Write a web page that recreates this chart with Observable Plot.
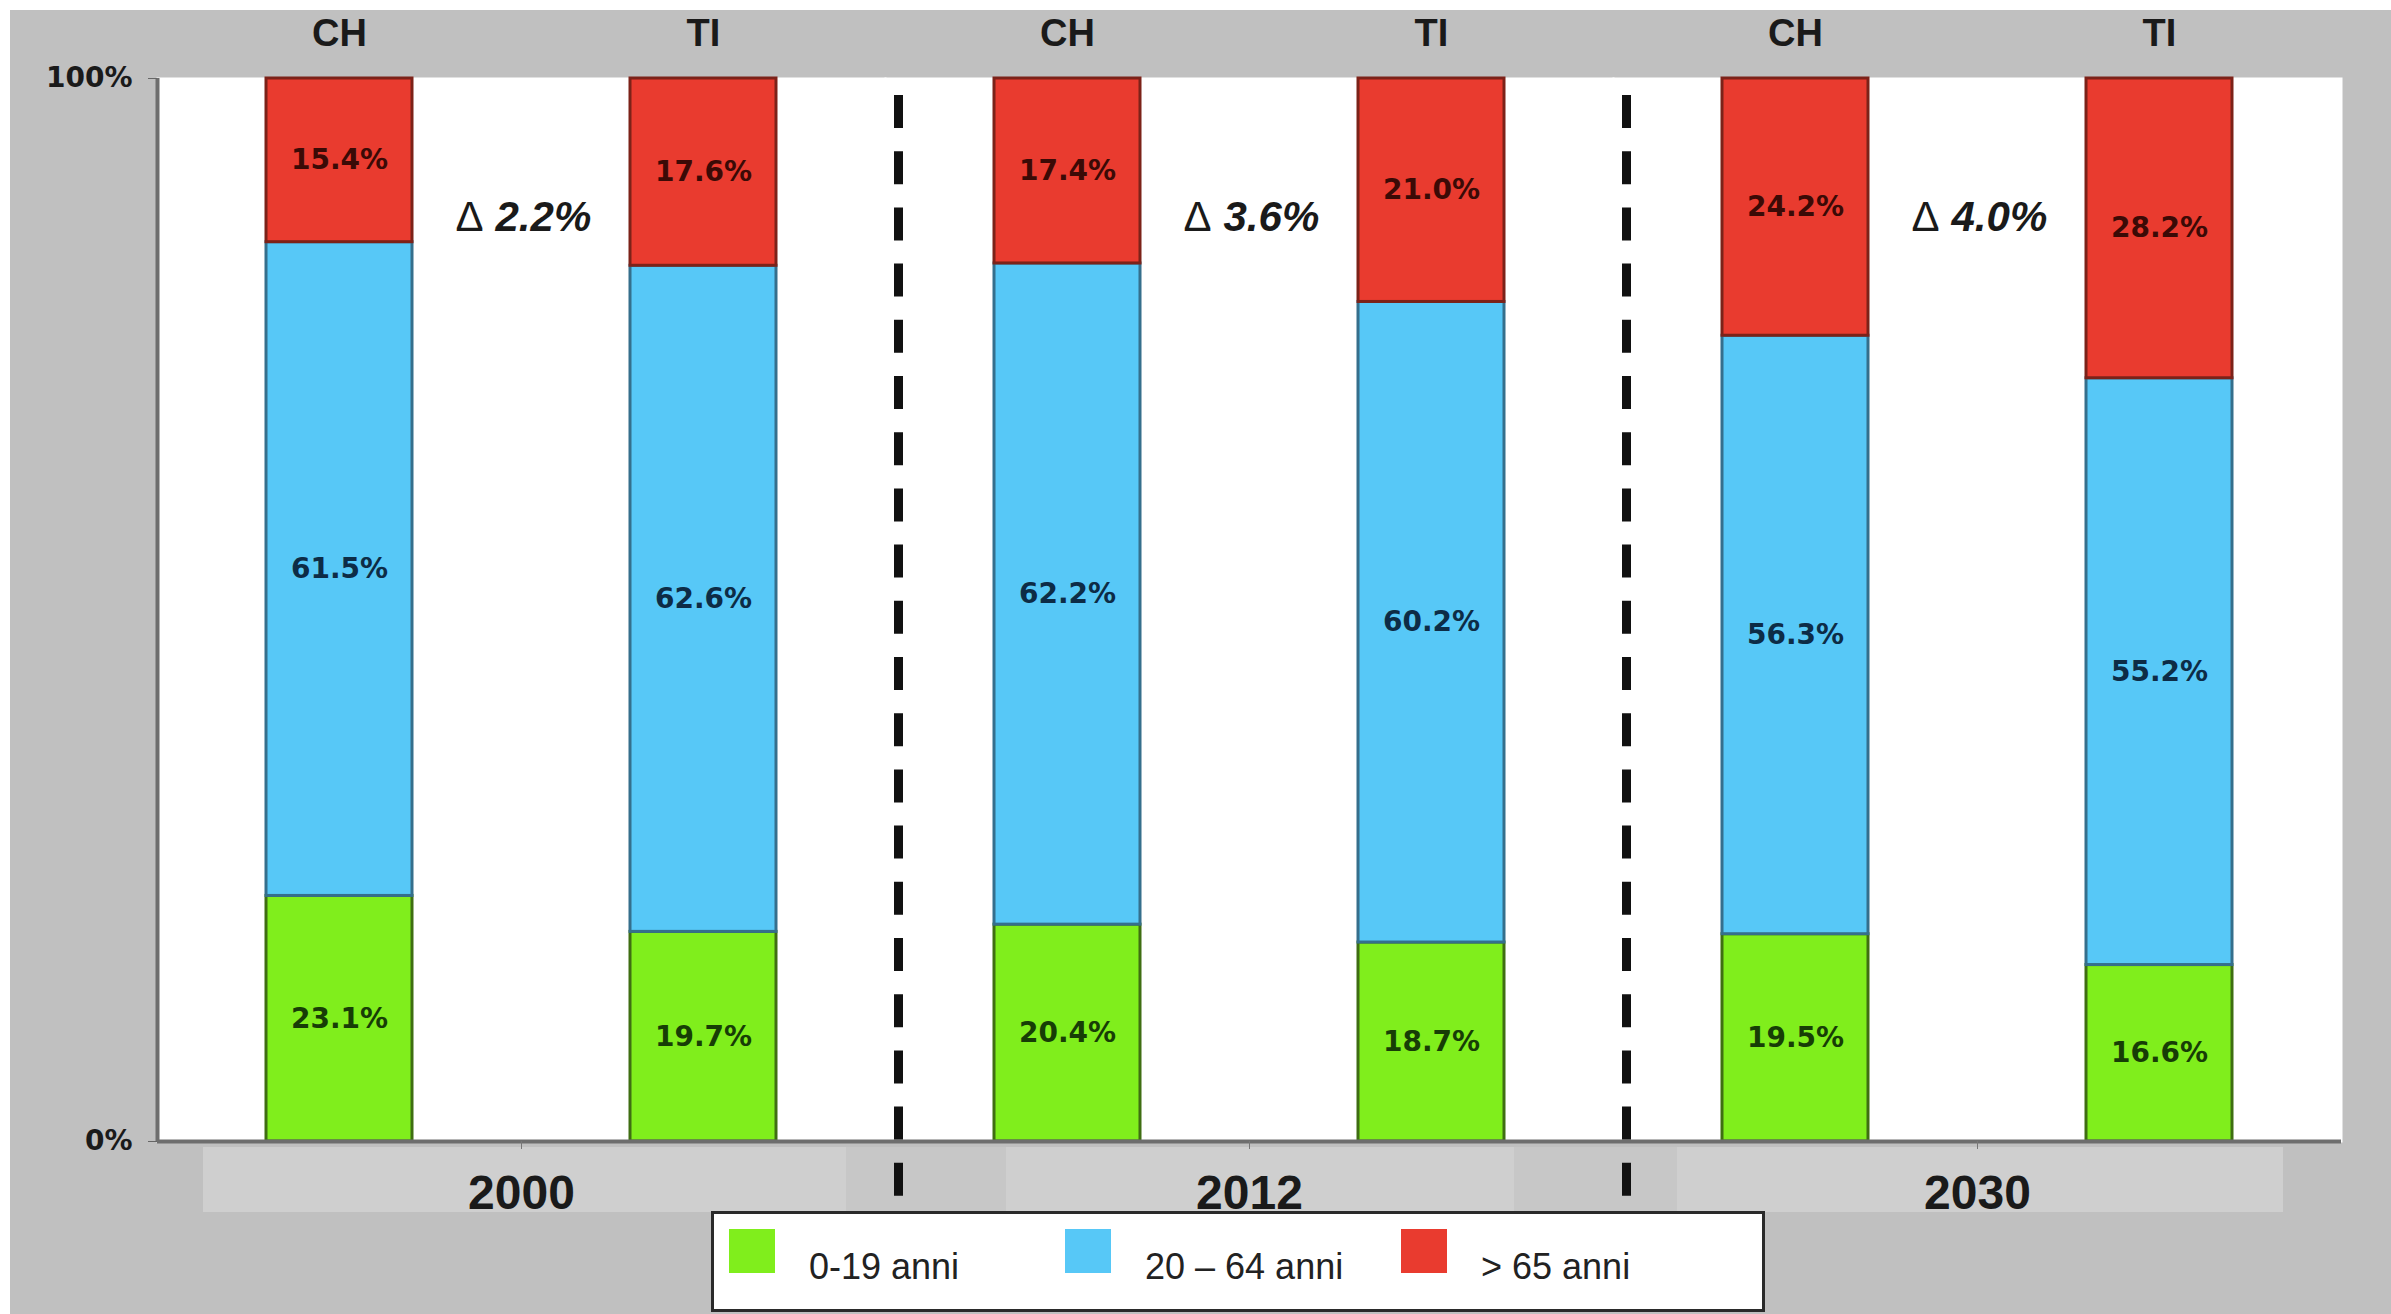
<!DOCTYPE html>
<html>
<head>
<meta charset="utf-8">
<script src="https://cdn.jsdelivr.net/npm/d3@7"></script>
<script src="https://cdn.jsdelivr.net/npm/@observablehq/plot@0.6"></script>
<style>
  html, body { margin: 0; padding: 0; background: #ffffff; }
  #wrap { position: absolute; left: 10px; top: 10px; width: 2381px; height: 1304px; background: #c0c0c0; overflow: hidden; font-family: 'Liberation Sans', Arial, sans-serif; }
  #band { position: absolute; left: 193px; top: 1137px; width: 2080px; height: 65px;
    background: linear-gradient(to right, #cfcfcf 0px, #cfcfcf 643px, #c7c7c7 643px, #c7c7c7 803px, #cfcfcf 803px, #cfcfcf 1311px, #c7c7c7 1311px, #c7c7c7 1474px, #cfcfcf 1474px); }
  #chart { position: absolute; left: 0; top: 0; }
  #legend { position: absolute; left: 701px; top: 1201px; width: 1054px; height: 101px; box-sizing: border-box; background: #fff; border: 3px solid #2a2a2a; display: flex; padding-left: 15px; }
  .item { width: 336px; display: flex; align-items: flex-start; }
  .sw { width: 46px; height: 44px; margin-top: 15px; flex: none; }
  .lab { margin-left: 34px; margin-top: 35px; font-size: 36px; line-height: 36px; color: #222; white-space: nowrap; }
</style>
</head>
<body>
<div id="wrap">
  <div id="band"></div>
  <div id="chart"></div>
  <div id="legend"></div>
</div>
<script>
// ---- data ----
const years = ["2000", "2012", "2030"];
const regions = ["CH", "TI"];
const ageGroups = ["0-19 anni", "20 – 64 anni", "> 65 anni"];
// bar order: 2000 CH, 2000 TI, 2012 CH, 2012 TI, 2030 CH, 2030 TI
const young = [23.1, 19.7, 20.4, 18.7, 19.5, 16.6];
const working = [61.5, 62.6, 62.2, 60.2, 56.3, 55.2];
const old = [15.4, 17.6, 17.4, 21.0, 24.2, 28.2];
const deltas = [2.2, 3.6, 4.0];
const fillColors = ["#80ee1c", "#57c8f7", "#e93b2f"];
const strokeColors = ["#3f6e12", "#356f8c", "#7c2219"];
const labelColors = ["#173d06", "#0d2c46", "#3b0a06"];

// ---- table for the library ----
const series = [young, working, old];
const table = [];
years.forEach((yr, yi) => regions.forEach((rg, ri) => {
  series.forEach((arr, gi) => {
    table.push({year: yr, region: rg, group: ageGroups[gi], gi, value: arr[yi * regions.length + ri]});
  });
}));

// ---- layout ----
const W = 2381, H = 1304;
const mL = 147, mR = 50, mT = 68, mB = 173;
const padIn = 0.6, padOut = 0.3;
const facetW = (W - mL - mR) / years.length;
const step = facetW / (regions.length - padIn + 2 * padOut);
const wideFont = "'DejaVu Sans', Verdana, sans-serif";
const deltaDy = 139;

const chart = Plot.plot({
  width: W, height: H,
  marginLeft: mL, marginRight: mR, marginTop: mT, marginBottom: mB,
  style: {fontFamily: "'Liberation Sans', Arial, sans-serif", background: "transparent", color: "#1a1a1a"},
  fx: {domain: years, padding: 0},
  x: {domain: regions, paddingInner: padIn, paddingOuter: padOut},
  y: {domain: [0, 1]},
  marks: [
    Plot.frame({fill: "white", stroke: "white", strokeWidth: 2}),
    Plot.barY(table, Plot.stackY({
      offset: "normalize", fx: "year", x: "region", y: "value",
      fill: d => fillColors[d.gi], stroke: d => strokeColors[d.gi], strokeWidth: 3
    })),
    Plot.text(table, Plot.stackY({
      offset: "normalize", fx: "year", x: "region", y: "value",
      text: d => d.value.toFixed(1) + "%", fill: d => labelColors[d.gi],
      fontSize: 28, fontWeight: "bold", fontFamily: wideFont
    })),
    // delta annotations: upright Δ + bold italic value
    Plot.text(deltas, {
      fx: (d, i) => years[i], text: () => "Δ",
      frameAnchor: "top", lineAnchor: "middle", textAnchor: "end", dy: deltaDy, dx: -38,
      fontSize: 42, fill: "#1a1a1a"
    }),
    Plot.text(deltas, {
      fx: (d, i) => years[i], text: d => `${d.toFixed(1)}%`,
      frameAnchor: "top", lineAnchor: "middle", textAnchor: "start", dy: deltaDy, dx: -26,
      fontSize: 42, fontWeight: "bold", fontStyle: "italic", fill: "#1a1a1a"
    }),
    Plot.ruleY([0], {stroke: "#6e6e6e", strokeWidth: 4}),
    Plot.ruleX([years[0]], {fx: d => d, x: () => regions[0], dx: -step / 2, stroke: "#6e6e6e", strokeWidth: 4}),
    Plot.ruleX(years.slice(1), {
      fx: d => d, x: () => regions[0], dx: -step / 2 + 13,
      stroke: "#111", strokeWidth: 9, strokeDasharray: "33,23.2", insetTop: 17, insetBottom: -56
    }),
    Plot.axisX({anchor: "top", tickSize: 0, tickPadding: 33, fontSize: 38, fontWeight: "bold", label: null}),
    Plot.axisFx({anchor: "bottom", tickSize: 8, tickPadding: 25, fontSize: 48, fontWeight: "bold", label: null, stroke: "#777"}),
    Plot.axisY({ticks: [0, 1], tickFormat: d3.format(".0%"), tickSize: 9, tickPadding: 16, fontSize: 28, fontWeight: "bold", fontFamily: wideFont, label: null, stroke: "#666"})
  ]
});
document.getElementById("chart").append(chart);

// ---- legend ----
const legend = document.getElementById("legend");
ageGroups.forEach((g, i) => {
  const item = document.createElement("div");
  item.className = "item";
  const sw = document.createElement("div");
  sw.className = "sw";
  sw.style.background = fillColors[i];
  const lab = document.createElement("div");
  lab.className = "lab";
  lab.textContent = g;
  item.append(sw, lab);
  legend.append(item);
});
</script>
</body>
</html>
